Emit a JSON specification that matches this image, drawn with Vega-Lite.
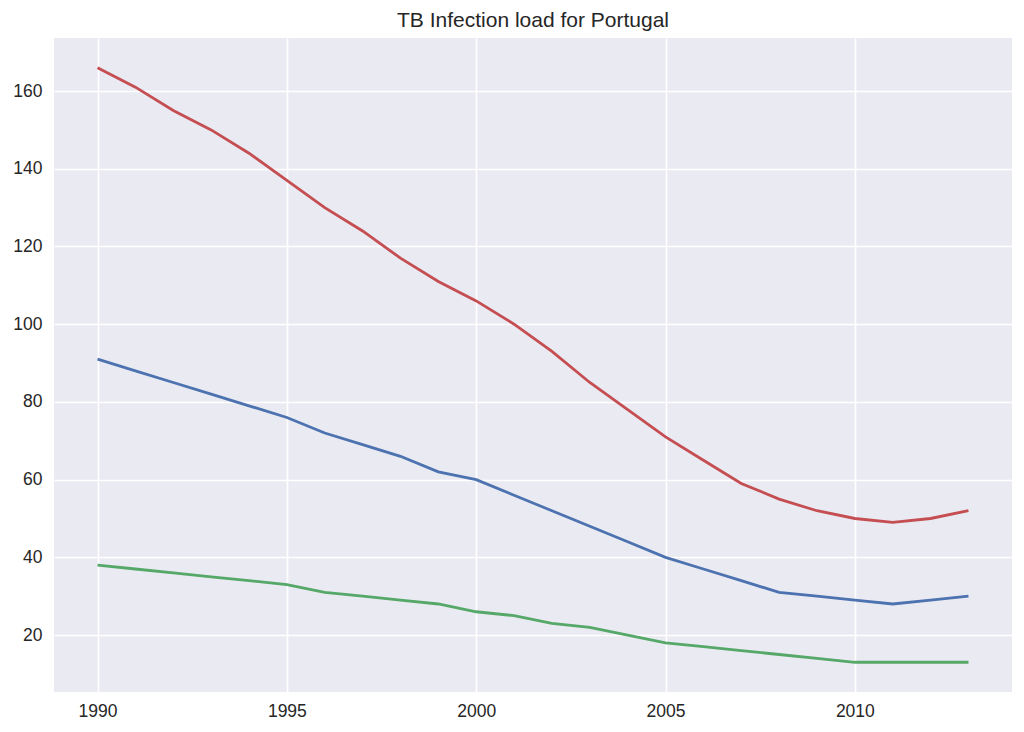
{
  "$schema": "https://vega.github.io/schema/vega-lite/v6.json",
  "width": 958,
  "height": 654,
  "autosize": "none",
  "padding": {"left": 54, "top": 38, "right": 12, "bottom": 40},
  "background": "white",
  "title": {
    "text": "TB Infection load for Portugal",
    "font": "Liberation Sans",
    "fontSize": 21,
    "fontWeight": "normal",
    "color": "#262626",
    "baseline": "alphabetic",
    "offset": 10,
    "dy": 20,
    "anchor": "middle"
  },
  "config": {
    "view": {"fill": "#EAEAF2", "stroke": null},
    "axis": {
      "domain": false,
      "ticks": false,
      "grid": true,
      "gridColor": "white",
      "gridWidth": 1.6,
      "gridOpacity": 1,
      "labelFont": "Liberation Sans",
      "labelFontSize": 17.5,
      "labelColor": "#262626"
    }
  },
  "datasets": {
    "tb": [
      {"year": 1990, "series": "total", "value": 166},
      {"year": 1991, "series": "total", "value": 161},
      {"year": 1992, "series": "total", "value": 155},
      {"year": 1993, "series": "total", "value": 150},
      {"year": 1994, "series": "total", "value": 144},
      {"year": 1995, "series": "total", "value": 137},
      {"year": 1996, "series": "total", "value": 130},
      {"year": 1997, "series": "total", "value": 124},
      {"year": 1998, "series": "total", "value": 117},
      {"year": 1999, "series": "total", "value": 111},
      {"year": 2000, "series": "total", "value": 106},
      {"year": 2001, "series": "total", "value": 100},
      {"year": 2002, "series": "total", "value": 93},
      {"year": 2003, "series": "total", "value": 85},
      {"year": 2004, "series": "total", "value": 78},
      {"year": 2005, "series": "total", "value": 71},
      {"year": 2006, "series": "total", "value": 65},
      {"year": 2007, "series": "total", "value": 59},
      {"year": 2008, "series": "total", "value": 55},
      {"year": 2009, "series": "total", "value": 52},
      {"year": 2010, "series": "total", "value": 50},
      {"year": 2011, "series": "total", "value": 49},
      {"year": 2012, "series": "total", "value": 50},
      {"year": 2013, "series": "total", "value": 52},
      {"year": 1990, "series": "middle", "value": 91},
      {"year": 1991, "series": "middle", "value": 88},
      {"year": 1992, "series": "middle", "value": 85},
      {"year": 1993, "series": "middle", "value": 82},
      {"year": 1994, "series": "middle", "value": 79},
      {"year": 1995, "series": "middle", "value": 76},
      {"year": 1996, "series": "middle", "value": 72},
      {"year": 1997, "series": "middle", "value": 69},
      {"year": 1998, "series": "middle", "value": 66},
      {"year": 1999, "series": "middle", "value": 62},
      {"year": 2000, "series": "middle", "value": 60},
      {"year": 2001, "series": "middle", "value": 56},
      {"year": 2002, "series": "middle", "value": 52},
      {"year": 2003, "series": "middle", "value": 48},
      {"year": 2004, "series": "middle", "value": 44},
      {"year": 2005, "series": "middle", "value": 40},
      {"year": 2006, "series": "middle", "value": 37},
      {"year": 2007, "series": "middle", "value": 34},
      {"year": 2008, "series": "middle", "value": 31},
      {"year": 2009, "series": "middle", "value": 30},
      {"year": 2010, "series": "middle", "value": 29},
      {"year": 2011, "series": "middle", "value": 28},
      {"year": 2012, "series": "middle", "value": 29},
      {"year": 2013, "series": "middle", "value": 30},
      {"year": 1990, "series": "lower", "value": 38},
      {"year": 1991, "series": "lower", "value": 37},
      {"year": 1992, "series": "lower", "value": 36},
      {"year": 1993, "series": "lower", "value": 35},
      {"year": 1994, "series": "lower", "value": 34},
      {"year": 1995, "series": "lower", "value": 33},
      {"year": 1996, "series": "lower", "value": 31},
      {"year": 1997, "series": "lower", "value": 30},
      {"year": 1998, "series": "lower", "value": 29},
      {"year": 1999, "series": "lower", "value": 28},
      {"year": 2000, "series": "lower", "value": 26},
      {"year": 2001, "series": "lower", "value": 25},
      {"year": 2002, "series": "lower", "value": 23},
      {"year": 2003, "series": "lower", "value": 22},
      {"year": 2004, "series": "lower", "value": 20},
      {"year": 2005, "series": "lower", "value": 18},
      {"year": 2006, "series": "lower", "value": 17},
      {"year": 2007, "series": "lower", "value": 16},
      {"year": 2008, "series": "lower", "value": 15},
      {"year": 2009, "series": "lower", "value": 14},
      {"year": 2010, "series": "lower", "value": 13},
      {"year": 2011, "series": "lower", "value": 13},
      {"year": 2012, "series": "lower", "value": 13},
      {"year": 2013, "series": "lower", "value": 13}
    ]
  },
  "data": {"name": "tb"},
  "mark": {"type": "line", "strokeWidth": 2.8, "clip": true},
  "encoding": {
    "x": {
      "field": "year",
      "type": "quantitative",
      "title": null,
      "scale": {"domain": [1988.85, 2014.15], "nice": false, "zero": false},
      "axis": {"values": [1990, 1995, 2000, 2005, 2010], "format": "d", "labelPadding": 10}
    },
    "y": {
      "field": "value",
      "type": "quantitative",
      "title": null,
      "scale": {"domain": [5.35, 173.65], "nice": false, "zero": false},
      "axis": {"values": [20, 40, 60, 80, 100, 120, 140, 160], "labelPadding": 12}
    },
    "color": {
      "field": "series",
      "type": "nominal",
      "scale": {"domain": ["middle", "total", "lower"], "range": ["#4C72B0", "#C44E52", "#55A868"]},
      "legend": null
    }
  }
}
